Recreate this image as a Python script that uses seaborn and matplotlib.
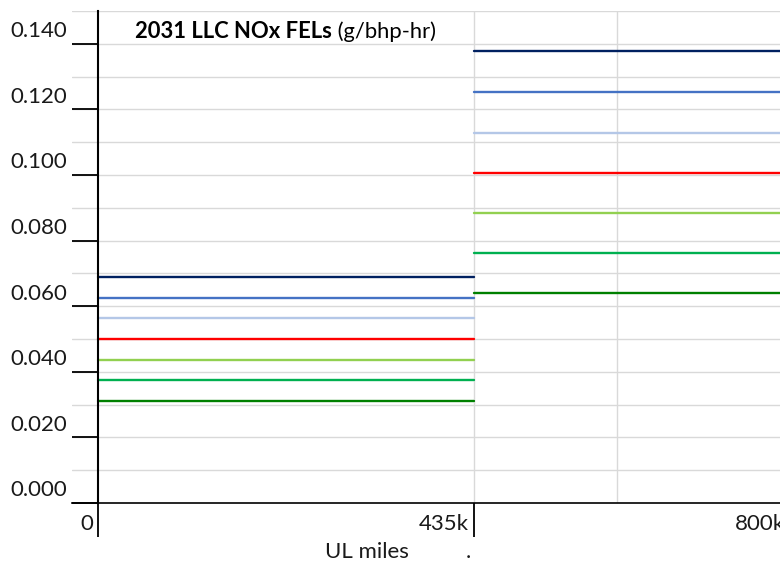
import matplotlib
matplotlib.use("Agg")
import matplotlib.pyplot as plt
import seaborn as sns
import pandas as pd
from matplotlib.transforms import ScaledTranslation

# ---------------- data ----------------
series = ["FEL 1", "FEL 2", "FEL 3", "FEL 4", "FEL 5", "FEL 6", "FEL 7"]
segment_start = [0, 435]          # k miles
segment_end = [435, 800]          # k miles
fel_to_435k = [0.0689, 0.0626, 0.0563, 0.0500, 0.0437, 0.0374, 0.0310]
fel_to_800k = [0.1377, 0.1253, 0.1129, 0.1005, 0.0884, 0.0762, 0.0640]
colors = ["#002060", "#4472C4", "#B4C7E7", "#FF0000", "#92D050", "#00B050", "#008000"]

ytick_values = [0.000, 0.020, 0.040, 0.060, 0.080, 0.100, 0.120, 0.140]
ytick_labels = ["0.000", "0.020", "0.040", "0.060", "0.080", "0.100", "0.120", "0.140"]
ygrid_values = [0.01, 0.02, 0.03, 0.04, 0.05, 0.06, 0.07, 0.08, 0.09, 0.10,
                0.11, 0.12, 0.13, 0.14, 0.15]
xtick_values = [0, 435, 800]
xtick_labels = ["0", "435k", "800k"]
xgrid_values = [435, 600]

title_bold = "2031 LLC NOx FELs"
title_rest = " (g/bhp-hr)"
xlabel = "UL miles"

# ---------------- table ----------------
rows = []
for name, lo, hi in zip(series, fel_to_435k, fel_to_800k):
    for j, val in enumerate([lo, hi]):
        for x in (segment_start[j], segment_end[j]):
            rows.append({"miles": x, "fel": val, "series": name, "unit": f"{name}-{j}"})
df = pd.DataFrame(rows)

# ---------------- figure ----------------
sns.set_theme(style="white")
plt.rcParams["font.family"] = ["Lato", "DejaVu Sans"]

W, H = 780, 563
DPI = 100
fig = plt.figure(figsize=(W / DPI, H / DPI), dpi=DPI)
ax = fig.add_axes([72 / W, 60 / H, (800 - 72) / W, 492 / H])

px_per_k = 0.8644
ax.set_xlim(-(98 - 72) / px_per_k, (800 - 98) / px_per_k)
ax.set_ylim(0, 0.150)

for y in ygrid_values:
    ax.axhline(y, color="#d9d9d9", lw=1.0, zorder=0)
for x in xgrid_values:
    ax.axvline(x, color="#d9d9d9", lw=1.0, zorder=0)

sns.lineplot(data=df, x="miles", y="fel", hue="series", hue_order=series,
             units="unit", estimator=None, palette=colors, lw=1.7,
             legend=False, ax=ax, zorder=3)

for s in ["top", "right"]:
    ax.spines[s].set_visible(False)
ax.spines["left"].set_position(("data", 0))
ax.spines["left"].set_color("black")
ax.spines["left"].set_linewidth(1.5)
ax.spines["left"].set_zorder(5)
ax.spines["bottom"].set_color("black")
ax.spines["bottom"].set_linewidth(1.2)

ax.set_yticks(ytick_values)
ax.set_yticklabels([])
ax.set_xticks(xtick_values)
ax.set_xticklabels([])
ax.tick_params(axis="y", left=True, direction="out", length=26 * 72 / DPI,
               width=1.3, color="black")
ax.tick_params(axis="x", bottom=True, direction="out", length=34 * 72 / DPI,
               width=1.3, color="black")
ax.set_xlabel("")
ax.set_ylabel("")

fs = 16
ytr = ax.get_yaxis_transform() + ScaledTranslation(-5 / DPI, 6.5 / DPI, fig.dpi_scale_trans)
for v, lab in zip(ytick_values, ytick_labels):
    ax.text(0, v, lab, transform=ytr, ha="right", va="baseline", fontsize=fs,
            color="#1a1a1a", clip_on=False)

xtr = ax.get_xaxis_transform() + ScaledTranslation(-5 / DPI, -26.5 / DPI, fig.dpi_scale_trans)
for v, lab in zip(xtick_values, xtick_labels):
    ax.text(v, 0, lab, transform=xtr, ha="right", va="baseline", fontsize=fs,
            color="#1a1a1a", clip_on=False)

tfs = 15.8
t1 = fig.text(135 / W, 1 - 37.5 / H, title_bold, fontsize=tfs, fontweight="bold",
              color="black", ha="left", va="baseline")
ax.annotate(title_rest, xy=(1, 0), xycoords=t1, xytext=(0, 0), textcoords="offset points",
            fontsize=tfs, color="black", ha="left", va="bottom", annotation_clip=False)

fig.text(325 / W, 1 - 558 / H, xlabel, fontsize=16, color="#1a1a1a",
         ha="left", va="baseline")
fig.text(466 / W, 1 - 558 / H, ".", fontsize=16, color="#1a1a1a",
         ha="left", va="baseline")

fig.savefig("out.png", dpi=DPI)
